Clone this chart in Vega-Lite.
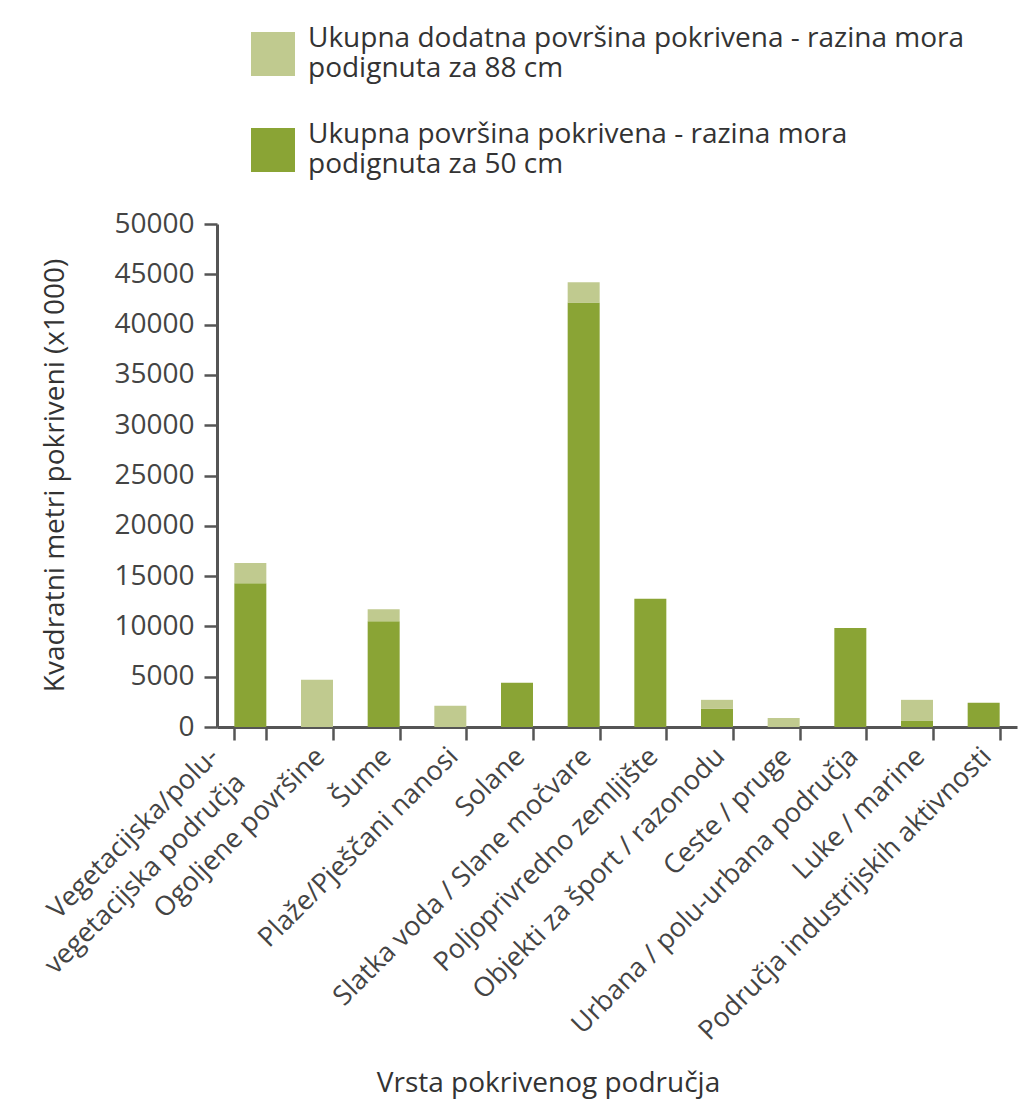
{
  "$schema": "https://vega.github.io/schema/vega-lite/v6.json",
  "width": 800,
  "height": 503,
  "autosize": {"type": "none"},
  "padding": {"left": 217, "top": 224, "right": 1, "bottom": 384},
  "background": "white",
  "data": {
    "values": [
      {"kategorija": "Vegetacijska/polu-vegetacijska područja", "serija": "Ukupna površina pokrivena - razina mora podignuta za 50 cm", "vrijednost": 14300},
      {"kategorija": "Vegetacijska/polu-vegetacijska područja", "serija": "Ukupna dodatna površina pokrivena - razina mora podignuta za 88 cm", "vrijednost": 2000},
      {"kategorija": "Ogoljene površine", "serija": "Ukupna površina pokrivena - razina mora podignuta za 50 cm", "vrijednost": 0},
      {"kategorija": "Ogoljene površine", "serija": "Ukupna dodatna površina pokrivena - razina mora podignuta za 88 cm", "vrijednost": 4700},
      {"kategorija": "Šume", "serija": "Ukupna površina pokrivena - razina mora podignuta za 50 cm", "vrijednost": 10500},
      {"kategorija": "Šume", "serija": "Ukupna dodatna površina pokrivena - razina mora podignuta za 88 cm", "vrijednost": 1200},
      {"kategorija": "Plaže/Pješčani nanosi", "serija": "Ukupna površina pokrivena - razina mora podignuta za 50 cm", "vrijednost": 0},
      {"kategorija": "Plaže/Pješčani nanosi", "serija": "Ukupna dodatna površina pokrivena - razina mora podignuta za 88 cm", "vrijednost": 2100},
      {"kategorija": "Solane", "serija": "Ukupna površina pokrivena - razina mora podignuta za 50 cm", "vrijednost": 4400},
      {"kategorija": "Solane", "serija": "Ukupna dodatna površina pokrivena - razina mora podignuta za 88 cm", "vrijednost": 0},
      {"kategorija": "Slatka voda / Slane močvare", "serija": "Ukupna površina pokrivena - razina mora podignuta za 50 cm", "vrijednost": 42200},
      {"kategorija": "Slatka voda / Slane močvare", "serija": "Ukupna dodatna površina pokrivena - razina mora podignuta za 88 cm", "vrijednost": 2000},
      {"kategorija": "Poljoprivredno zemljište", "serija": "Ukupna površina pokrivena - razina mora podignuta za 50 cm", "vrijednost": 12750},
      {"kategorija": "Poljoprivredno zemljište", "serija": "Ukupna dodatna površina pokrivena - razina mora podignuta za 88 cm", "vrijednost": 0},
      {"kategorija": "Objekti za šport / razonodu", "serija": "Ukupna površina pokrivena - razina mora podignuta za 50 cm", "vrijednost": 1800},
      {"kategorija": "Objekti za šport / razonodu", "serija": "Ukupna dodatna površina pokrivena - razina mora podignuta za 88 cm", "vrijednost": 900},
      {"kategorija": "Ceste / pruge", "serija": "Ukupna površina pokrivena - razina mora podignuta za 50 cm", "vrijednost": 0},
      {"kategorija": "Ceste / pruge", "serija": "Ukupna dodatna površina pokrivena - razina mora podignuta za 88 cm", "vrijednost": 900},
      {"kategorija": "Urbana / polu-urbana područja", "serija": "Ukupna površina pokrivena - razina mora podignuta za 50 cm", "vrijednost": 9850},
      {"kategorija": "Urbana / polu-urbana područja", "serija": "Ukupna dodatna površina pokrivena - razina mora podignuta za 88 cm", "vrijednost": 0},
      {"kategorija": "Luke / marine", "serija": "Ukupna površina pokrivena - razina mora podignuta za 50 cm", "vrijednost": 600},
      {"kategorija": "Luke / marine", "serija": "Ukupna dodatna površina pokrivena - razina mora podignuta za 88 cm", "vrijednost": 2100},
      {"kategorija": "Područja industrijskih aktivnosti", "serija": "Ukupna površina pokrivena - razina mora podignuta za 50 cm", "vrijednost": 2400},
      {"kategorija": "Područja industrijskih aktivnosti", "serija": "Ukupna dodatna površina pokrivena - razina mora podignuta za 88 cm", "vrijednost": 0}
    ]
  },
  "mark": {"type": "bar"},
  "encoding": {
    "x": {
      "field": "kategorija",
      "type": "nominal",
      "sort": null,
      "scale": {"paddingInner": 0.52, "paddingOuter": 0.26},
      "axis": {
        "title": "Vrsta pokrivenog područja",
        "titleX": 331,
        "titleY": 356,
        "titleBaseline": "middle",
        "titleAlign": "center",
        "titleFont": "Open Sans",
        "titleFontSize": 28,
        "titleFontWeight": "normal",
        "titleColor": "#333333",
        "labelAngle": -45,
        "labelAlign": "right",
        "labelBaseline": "middle",
        "labelFont": "Open Sans",
        "labelFontSize": 27,
        "labelColor": "#444444",
        "labelPadding": 12,
        "labelOffset": {"condition": {"test": "datum.value == 'Vegetacijska/polu-vegetacijska područja'", "value": -36}, "value": 3},
        "labelLimit": 700,
        "labelLineHeight": 37,
        "labelExpr": "datum.value == 'Vegetacijska/polu-vegetacijska područja' ? ['Vegetacijska/polu-', 'vegetacijska područja'] : datum.value",
        "tickBand": "extent",
        "tickSize": 13,
        "tickWidth": 2.5,
        "tickColor": "#555555",
        "domainColor": "#555555",
        "domainWidth": 3
      }
    },
    "y": {
      "field": "vrijednost",
      "type": "quantitative",
      "stack": "zero",
      "scale": {"domain": [0, 50000], "nice": false},
      "axis": {
        "title": "Kvadratni metri pokriveni (x1000)",
        "titleX": -162,
        "titleY": 251,
        "titleAngle": -90,
        "titleBaseline": "middle",
        "titleAlign": "center",
        "titleFont": "Open Sans",
        "titleFontSize": 28,
        "titleFontWeight": "normal",
        "titleColor": "#333333",
        "values": [0, 5000, 10000, 15000, 20000, 25000, 30000, 35000, 40000, 45000, 50000],
        "format": "d",
        "grid": false,
        "labelFont": "Open Sans",
        "labelFontSize": 28,
        "labelColor": "#444444",
        "labelPadding": 10,
        "tickSize": 13,
        "tickWidth": 2.5,
        "tickColor": "#555555",
        "domainColor": "#555555",
        "domainWidth": 3
      }
    },
    "color": {
      "field": "serija",
      "type": "nominal",
      "scale": {
        "domain": ["Ukupna dodatna površina pokrivena - razina mora podignuta za 88 cm", "Ukupna površina pokrivena - razina mora podignuta za 50 cm"],
        "range": ["#c0ca8f", "#8aa435"]
      },
      "legend": {
        "title": null,
        "orient": "none",
        "legendX": 34,
        "legendY": -192,
        "direction": "vertical",
        "symbolType": "square",
        "symbolSize": 1936,
        "symbolStrokeWidth": 0,
        "labelFont": "Open Sans",
        "labelFontSize": 28,
        "labelColor": "#333333",
        "labelLimit": 800,
        "labelOffset": 13,
        "labelLineHeight": 36,
        "labelBaseline": "line-bottom",
        "rowPadding": 38,
        "labelExpr": "[slice(datum.label, 0, indexof(datum.label, ' podignuta')), slice(datum.label, indexof(datum.label, 'podignuta') )]"
      }
    },
    "order": {"field": "serija", "sort": "descending"}
  },
  "config": {
    "view": {"stroke": null},
    "bar": {"stroke": null}
  }
}
